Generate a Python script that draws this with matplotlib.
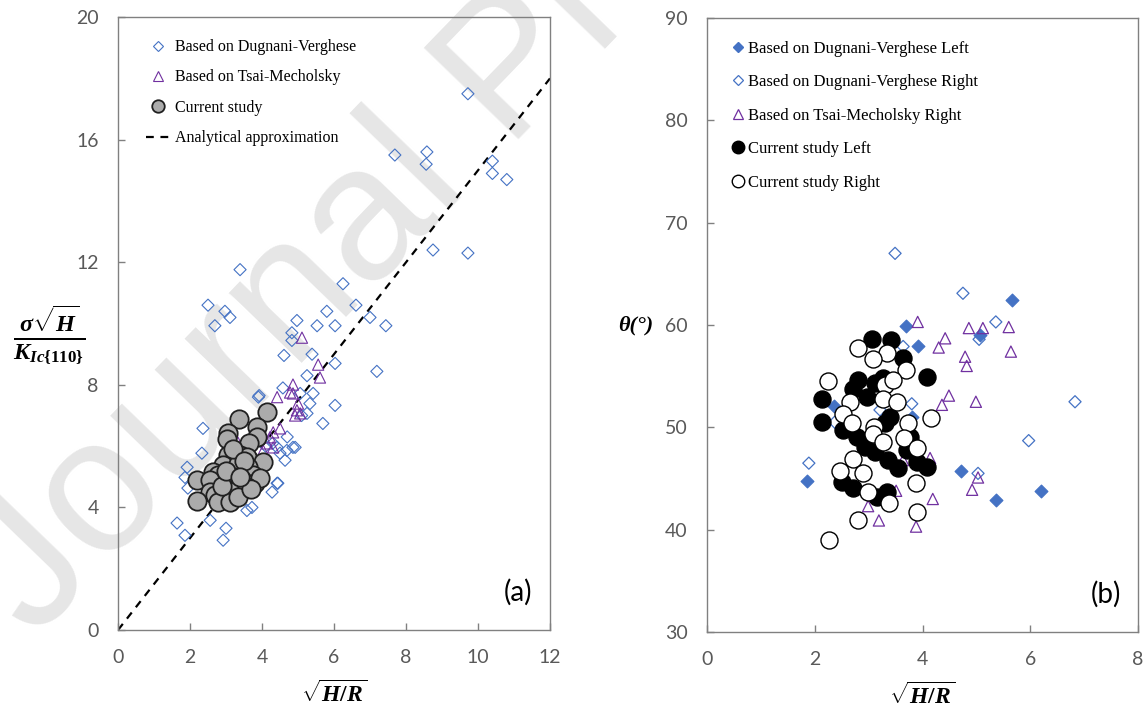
import matplotlib
matplotlib.use('Agg')
import matplotlib.pyplot as plt
from matplotlib.lines import Line2D

# 수식 글꼴 설정 (굵은 세리프)
plt.rcParams['mathtext.fontset'] = 'custom'
plt.rcParams['mathtext.rm'] = 'Liberation Serif:bold'
plt.rcParams['mathtext.it'] = 'Liberation Serif:italic:bold'
plt.rcParams['mathtext.bf'] = 'Liberation Serif:bold'

# ---- (a) 데이터 ----
dv_x = [9.72, 7.69, 8.58, 8.56, 10.4, 10.4, 10.8, 8.75, 9.72, 3.39, 6.25, 2.5, 2.97, 3.11,
        2.69, 6.61, 5.8, 4.97, 7.0, 5.53, 6.03, 7.44, 4.83, 4.83, 4.61, 5.39, 6.03, 7.19,
        5.25, 4.58, 3.92, 5.42, 5.06, 5.33, 6.03, 5.69, 5.25, 2.36, 2.33, 1.92, 1.86, 4.42,
        4.69, 4.92, 4.64, 4.5, 4.42, 1.64, 1.86, 2.92, 3.0, 2.56, 1.94, 3.58, 3.72, 4.28,
        4.44, 4.86, 4.3, 4.7, 5.1, 3.9, 4.1]
dv_y = [17.5, 15.5, 15.6, 15.2, 15.3, 14.9, 14.7, 12.4, 12.3, 11.76, 11.3, 10.6, 10.4, 10.2,
        9.93, 10.6, 10.4, 10.1, 10.2, 9.93, 9.93, 9.93, 9.7, 9.45, 8.96, 9.0, 8.7, 8.44,
        8.3, 7.9, 7.65, 7.72, 7.72, 7.39, 7.33, 6.74, 7.07, 6.58, 5.77, 5.31, 4.98, 5.96,
        5.86, 5.96, 5.54, 5.77, 4.79, 3.49, 3.09, 2.93, 3.32, 3.58, 4.63, 3.9, 4.0, 4.5,
        4.79, 5.96, 6.1, 6.3, 7.0, 7.6, 6.0]

tm_x = [5.11, 5.56, 5.61, 4.86, 4.78, 4.86, 4.42, 5.0, 4.97, 4.92, 5.06, 4.5, 4.31, 4.22,
        4.14, 4.31, 4.03, 3.33]
tm_y = [9.54, 8.66, 8.24, 8.01, 7.75, 7.72, 7.6, 7.39, 7.17, 7.0, 7.07, 6.58, 6.45, 6.29,
        6.09, 5.96, 5.86, 6.12]

cs_x = [4.14, 3.36, 3.86, 3.06, 3.86, 3.03, 3.64, 3.06, 3.39, 3.58, 4.03, 2.92, 3.33, 3.61,
        2.64, 2.78, 3.19, 3.75, 2.19, 2.56, 3.44, 3.81, 3.94, 2.75, 2.56, 3.06, 3.31, 3.58,
        2.19, 2.69, 2.78, 3.11, 3.33, 3.2, 3.5, 2.9, 3.7, 3.0, 3.4]
cs_y = [7.1, 6.87, 6.61, 6.42, 6.29, 6.22, 6.09, 5.7, 5.7, 5.64, 5.47, 5.37, 5.41, 5.31,
        5.15, 5.05, 4.98, 5.05, 4.89, 4.89, 4.89, 4.79, 4.95, 4.46, 4.49, 4.56, 4.56, 4.66,
        4.2, 4.4, 4.17, 4.17, 4.33, 5.9, 5.5, 4.7, 4.6, 5.2, 5.0]

line_x = [0, 12]
line_y = [0, 18]

# ---- (b) 데이터 ----
dvl_x = [3.69, 3.91, 5.66, 2.36, 1.86, 4.71, 5.36, 6.2, 5.06, 3.8]
dvl_y = [59.9, 57.9, 62.4, 52.1, 44.8, 45.7, 42.9, 43.8, 59.0, 51.0]

dvr_x = [3.49, 4.75, 5.36, 5.05, 6.83, 5.97, 5.03, 1.89, 3.8, 3.64, 3.21, 2.37]
dvr_y = [67.0, 63.1, 60.3, 58.6, 52.5, 48.7, 45.5, 46.5, 52.3, 57.9, 51.7, 50.5]

tmr_x = [3.91, 4.42, 4.3, 4.86, 5.12, 5.6, 5.64, 4.79, 4.82, 4.49, 4.36, 4.99, 4.14, 5.03,
         4.92, 4.19, 3.51, 2.99, 3.19, 3.88, 3.64]
tmr_y = [60.3, 58.7, 57.8, 59.7, 59.7, 59.8, 57.4, 56.9, 56.0, 53.1, 52.2, 52.5, 47.0, 45.1,
         43.9, 43.0, 43.8, 42.3, 40.9, 40.3, 46.8]

csl_x = [3.06, 3.41, 3.64, 4.08, 2.8, 3.12, 3.27, 2.71, 2.97, 2.13, 2.13, 3.4, 3.3, 2.52,
         2.78, 3.77, 2.93, 3.12, 3.71, 3.36, 3.54, 3.9, 4.08, 2.5, 2.71, 3.15, 3.34]
csl_y = [58.6, 58.5, 56.8, 54.9, 54.6, 54.3, 54.8, 53.7, 53.0, 52.8, 50.5, 51.0, 50.4, 49.7,
         49.1, 49.1, 48.1, 47.6, 47.8, 46.8, 46.0, 46.6, 46.1, 44.7, 44.1, 43.2, 43.7]

csr_x = [2.8, 3.34, 3.08, 3.69, 2.25, 3.3, 3.45, 2.65, 3.27, 3.53, 2.52, 4.16, 2.69, 3.1,
         3.73, 3.08, 3.27, 3.66, 3.9, 2.71, 2.47, 2.89, 3.88, 2.99, 3.38, 3.9, 2.8, 2.26]
csr_y = [57.8, 57.3, 56.7, 55.6, 54.5, 54.1, 54.6, 52.5, 52.8, 52.5, 51.3, 50.9, 50.4, 50.0,
         50.4, 49.3, 48.6, 49.0, 48.0, 46.9, 45.7, 45.5, 44.6, 43.7, 42.6, 41.7, 40.9, 39.0]

blue = '#4472C4'
purple = '#7030A0'
tick_col = '#595959'
spine_col = '#808080'

fig = plt.figure(figsize=(11.47, 7.11), dpi=100)

# 워터마크
fig.text(0.03, 0.1, 'Journal Pre-proof', fontsize=138, family='Liberation Sans',
         color='#e6e6e6', rotation=46, rotation_mode='anchor', ha='left', va='baseline',
         zorder=-1)

ax1 = fig.add_axes([0.1029, 0.1139, 0.3766, 0.862])
ax2 = fig.add_axes([0.6164, 0.1111, 0.3758, 0.8636])


def style_axis(ax):
    ax.set_facecolor('none')
    for s in ax.spines.values():
        s.set_color(spine_col)
        s.set_linewidth(1.0)
    ax.tick_params(direction='in', length=5, width=1, color=spine_col,
                   labelcolor=tick_col, labelsize=14, pad=14)
    for lab in ax.get_xticklabels() + ax.get_yticklabels():
        lab.set_family('Lato')


# (a)
ax1.plot(line_x, line_y, ls=(0, (3.5, 3)), color='black', lw=1.6, zorder=1)
ax1.scatter(dv_x, dv_y, marker='D', s=38, facecolors='none', edgecolors=blue, linewidths=0.8,
            zorder=2)
ax1.scatter(tm_x, tm_y, marker='^', s=65, facecolors='none', edgecolors=purple,
            linewidths=0.8, zorder=3)
ax1.scatter(cs_x, cs_y, marker='o', s=175, facecolors='#ababab', edgecolors='#202020',
            linewidths=1.3, zorder=4)
ax1.set_xlim(0, 12)
ax1.set_ylim(0, 20)
ax1.set_xticks(range(0, 13, 2))
ax1.set_yticks(range(0, 21, 4))
style_axis(ax1)
ax1.set_xlabel(r'$\sqrt{H/R}$', fontsize=17, labelpad=10)
ax1.set_ylabel(r'$\frac{\sigma\sqrt{H}}{K_{Ic\{110\}}}$', fontsize=25, rotation=0,
               va='center', ha='center')
ax1.yaxis.set_label_coords(-0.16, 0.48)
ax1.text(0.96, 0.04, '(a)', transform=ax1.transAxes, ha='right', va='bottom',
         fontsize=20, family='Lato', color='black')

h1 = [Line2D([], [], ls='none', marker='D', ms=5.5, mfc='none', mec=blue, mew=0.8),
      Line2D([], [], ls='none', marker='^', ms=7, mfc='none', mec=purple, mew=0.8),
      Line2D([], [], ls='none', marker='o', ms=9, mfc='#ababab', mec='#202020', mew=1.3),
      Line2D([], [], ls=(0, (3.5, 3)), color='black', lw=1.6)]
lab1 = ['Based on Dugnani-Verghese', 'Based on Tsai-Mecholsky', 'Current study',
        'Analytical approximation']
ax1.legend(h1, lab1, loc='upper left', bbox_to_anchor=(0.035, 0.985), frameon=False,
           prop={'family': 'Liberation Serif', 'size': 11.5}, labelspacing=0.9,
           handlelength=1.5, handletextpad=0.3, borderpad=0.3)

# (b)
ax2.scatter(dvr_x, dvr_y, marker='D', s=38, facecolors='none', edgecolors=blue,
            linewidths=0.9, zorder=2)
ax2.scatter(dvl_x, dvl_y, marker='D', s=42, facecolors=blue, edgecolors=blue,
            linewidths=0.9, zorder=2)
ax2.scatter(tmr_x, tmr_y, marker='^', s=65, facecolors='none', edgecolors=purple,
            linewidths=0.9, zorder=3)
ax2.scatter(csl_x, csl_y, marker='o', s=150, facecolors='black', edgecolors='black',
            linewidths=1.0, zorder=4)
ax2.scatter(csr_x, csr_y, marker='o', s=150, facecolors='white', edgecolors='black',
            linewidths=1.0, zorder=5)
ax2.set_xlim(0, 8)
ax2.set_ylim(30, 90)
ax2.set_xticks(range(0, 9, 2))
ax2.set_yticks(range(30, 91, 10))
style_axis(ax2)
ax2.set_xlabel(r'$\sqrt{H/R}$', fontsize=17, labelpad=10)
ax2.set_ylabel('θ(°)', fontsize=16, rotation=0, family='Liberation Serif',
               fontweight='bold', fontstyle='italic', va='center', ha='center')
ax2.yaxis.set_label_coords(-0.165, 0.5)
ax2.text(0.96, 0.04, '(b)', transform=ax2.transAxes, ha='right', va='bottom',
         fontsize=20, family='Lato', color='black')

h2 = [Line2D([], [], ls='none', marker='D', ms=5.5, mfc=blue, mec=blue),
      Line2D([], [], ls='none', marker='D', ms=5.5, mfc='none', mec=blue, mew=0.9),
      Line2D([], [], ls='none', marker='^', ms=7, mfc='none', mec=purple, mew=0.9),
      Line2D([], [], ls='none', marker='o', ms=9, mfc='black', mec='black'),
      Line2D([], [], ls='none', marker='o', ms=9, mfc='white', mec='black', mew=1.0)]
lab2 = ['Based on Dugnani-Verghese Left', 'Based on Dugnani-Verghese Right',
        'Based on Tsai-Mecholsky Right', 'Current study Left', 'Current study Right']
ax2.legend(h2, lab2, loc='upper left', bbox_to_anchor=(0.025, 0.985), frameon=False,
           prop={'family': 'Liberation Serif', 'size': 12}, labelspacing=1.05,
           handlelength=0.8, handletextpad=0.2, borderpad=0.3)

fig.savefig('out.png', dpi=100)
